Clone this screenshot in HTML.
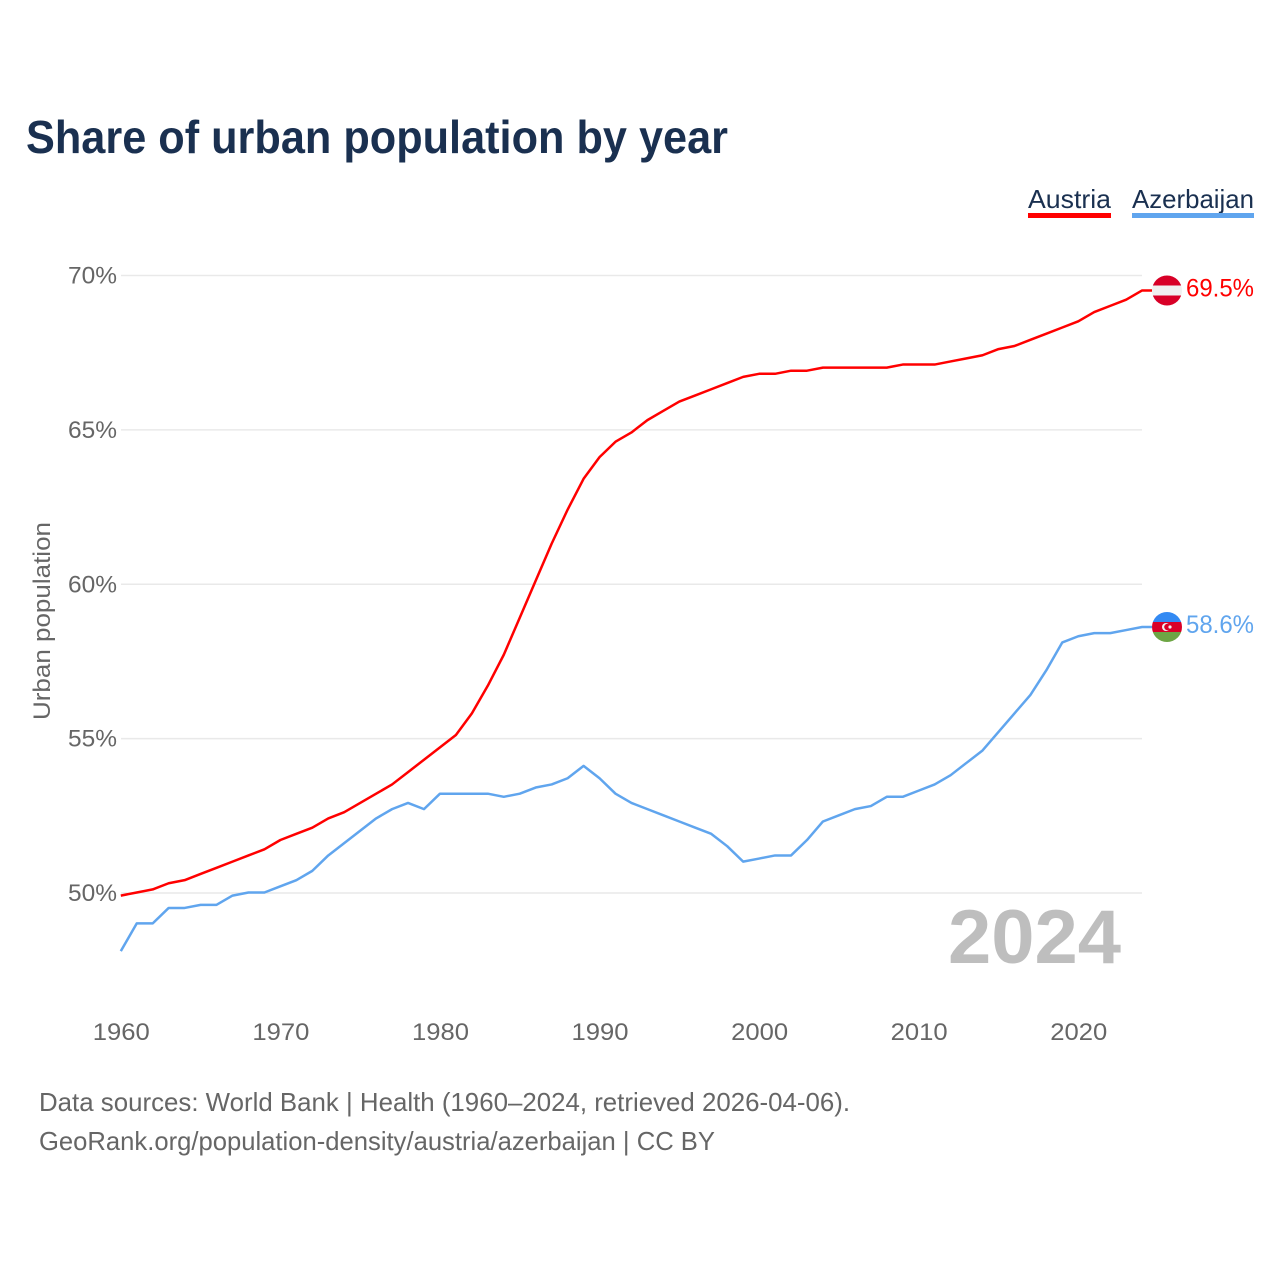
<!DOCTYPE html>
<html lang="en">
<head>
<meta charset="utf-8">
<title>Share of urban population by year</title>
<style>
  html, body { margin: 0; padding: 0; background: #fff; }
  svg { display: block; font-family: "Liberation Sans", sans-serif; }
</style>
</head>
<body>
<svg id="chart" xmlns="http://www.w3.org/2000/svg" width="1280" height="1280" viewBox="0 0 1280 1280">
  <defs>
    <clipPath id="clip-at"><circle cx="1167" cy="290.5" r="15"/></clipPath>
    <clipPath id="clip-az"><circle cx="1167" cy="627" r="15"/></clipPath>
  </defs>
  <rect width="1280" height="1280" fill="#fff"/>

  <text x="26" y="153" font-size="46" font-weight="700" fill="#1a3050" textLength="702" lengthAdjust="spacingAndGlyphs">Share of urban population by year</text>

  <g>
    <g>
      <text x="1028" y="208" font-size="26" fill="#1a3050" textLength="83" lengthAdjust="spacingAndGlyphs">Austria</text>
      <rect x="1028" y="213" width="83" height="5" fill="#ff0000"/>
    </g>
    <g>
      <text x="1132" y="208" font-size="26" fill="#1a3050" textLength="122" lengthAdjust="spacingAndGlyphs">Azerbaijan</text>
      <rect x="1132" y="213" width="122" height="5" fill="#60a5ee"/>
    </g>
  </g>

  <text transform="translate(50,621) rotate(-90)" text-anchor="middle" font-size="24" fill="#666" textLength="198" lengthAdjust="spacingAndGlyphs">Urban population</text>

  <g id="grid"></g>
  <g id="x-axis"></g>

  <text x="948" y="963" font-size="76" font-weight="700" fill="#bebebe" textLength="173" lengthAdjust="spacingAndGlyphs">2024</text>

  <g id="lines" transform="translate(0,-0.5)"></g>

  <g clip-path="url(#clip-at)">
    <rect x="1152" y="275.5" width="30" height="10" fill="#d80027"/>
    <rect x="1152" y="285.5" width="30" height="10" fill="#f0f0f0"/>
    <rect x="1152" y="295.5" width="30" height="10" fill="#d80027"/>
  </g>
  <g clip-path="url(#clip-az)">
    <rect x="1152" y="612" width="30" height="10" fill="#338af3"/>
    <rect x="1152" y="622" width="30" height="10" fill="#d80027"/>
    <rect x="1152" y="632" width="30" height="10" fill="#6da544"/>
    <circle cx="1166" cy="627" r="4" fill="#f0f0f0"/>
    <circle cx="1167.4" cy="627" r="3.2" fill="#d80027"/>
    <circle cx="1170" cy="627" r="1.6" fill="#f0f0f0"/>
  </g>

  <text x="1186" y="296.5" font-size="25" fill="#ff0000" textLength="68" lengthAdjust="spacingAndGlyphs">69.5%</text>
  <text x="1186" y="633" font-size="25" fill="#60a5ee" textLength="68" lengthAdjust="spacingAndGlyphs">58.6%</text>

  <text x="39" y="1111" font-size="26" fill="#666" textLength="811" lengthAdjust="spacingAndGlyphs">Data sources: World Bank | Health (1960–2024, retrieved 2026-04-06).</text>
  <text x="39" y="1150" font-size="26" fill="#666" textLength="676" lengthAdjust="spacingAndGlyphs">GeoRank.org/population-density/austria/azerbaijan | CC BY</text>
</svg>
<script>
const startYear = 1960;
const austriaValues = [49.9,50.0,50.1,50.3,50.4,50.6,50.8,51.0,51.2,51.4,51.7,51.9,52.1,52.4,52.6,52.9,53.2,53.5,53.9,54.3,54.7,55.1,55.8,56.7,57.7,58.9,60.1,61.3,62.4,63.4,64.1,64.6,64.9,65.3,65.6,65.9,66.1,66.3,66.5,66.7,66.8,66.8,66.9,66.9,67.0,67.0,67.0,67.0,67.0,67.1,67.1,67.1,67.2,67.3,67.4,67.6,67.7,67.9,68.1,68.3,68.5,68.8,69.0,69.2,69.5];
const azerbaijanValues = [48.1,49.0,49.0,49.5,49.5,49.6,49.6,49.9,50.0,50.0,50.2,50.4,50.7,51.2,51.6,52.0,52.4,52.7,52.9,52.7,53.2,53.2,53.2,53.2,53.1,53.2,53.4,53.5,53.7,54.1,53.7,53.2,52.9,52.7,52.5,52.3,52.1,51.9,51.5,51.0,51.1,51.2,51.2,51.7,52.3,52.5,52.7,52.8,53.1,53.1,53.3,53.5,53.8,54.2,54.6,55.2,55.8,56.4,57.2,58.1,58.3,58.4,58.4,58.5,58.6];
const yTicks = [50,55,60,65,70];
const xTicks = [1960,1970,1980,1990,2000,2010,2020];

const NS = 'http://www.w3.org/2000/svg';
function xScale(year) { return 120.8 + (year - 1960) * 15.958; }
function yScale(v) { return 893 - (v - 50) * 30.875; }

const grid = document.getElementById('grid');
yTicks.forEach(function (t) {
  const line = document.createElementNS(NS, 'line');
  
  
  line.setAttribute('x1', 121);
  line.setAttribute('x2', 1142);
  line.setAttribute('y1', yScale(t));
  line.setAttribute('y2', yScale(t));
  line.setAttribute('stroke', '#e9e9e9');
  line.setAttribute('stroke-width', '1.5');
  grid.appendChild(line);
  const label = document.createElementNS(NS, 'text');
  
  
  label.setAttribute('x', 117);
  label.setAttribute('y', yScale(t) + 8);
  label.setAttribute('text-anchor', 'end');
  label.setAttribute('font-size', '24');
  label.setAttribute('fill', '#666');
  label.setAttribute('textLength', '49');
  label.setAttribute('lengthAdjust', 'spacingAndGlyphs');
  label.textContent = t + '%';
  grid.appendChild(label);
});

const xAxis = document.getElementById('x-axis');
xTicks.forEach(function (t) {
  const label = document.createElementNS(NS, 'text');
  
  
  label.setAttribute('x', xScale(t) + 0.5);
  label.setAttribute('y', 1040);
  label.setAttribute('text-anchor', 'middle');
  label.setAttribute('font-size', '24');
  label.setAttribute('fill', '#666');
  label.setAttribute('textLength', '57');
  label.setAttribute('lengthAdjust', 'spacingAndGlyphs');
  label.textContent = t;
  xAxis.appendChild(label);
});

function pathFor(values) {
  const pts = values.map(function (v, i) {
    return xScale(startYear + i).toFixed(2) + ',' + yScale(v).toFixed(2);
  });
  const last = values[values.length - 1];
  pts.push('1152,' + yScale(last).toFixed(2));
  return 'M' + pts.join('L');
}

const lines = document.getElementById('lines');
const austriaPath = document.createElementNS(NS, 'path');


austriaPath.setAttribute('d', pathFor(austriaValues));
austriaPath.setAttribute('fill', 'none');
austriaPath.setAttribute('stroke', '#ff0000');
austriaPath.setAttribute('stroke-width', '2.5');
austriaPath.setAttribute('stroke-linejoin', 'round');
lines.appendChild(austriaPath);

const azerbaijanPath = document.createElementNS(NS, 'path');


azerbaijanPath.setAttribute('d', pathFor(azerbaijanValues));
azerbaijanPath.setAttribute('fill', 'none');
azerbaijanPath.setAttribute('stroke', '#60a5ee');
azerbaijanPath.setAttribute('stroke-width', '2.5');
azerbaijanPath.setAttribute('stroke-linejoin', 'round');
lines.appendChild(azerbaijanPath);
</script>
</body>
</html>
